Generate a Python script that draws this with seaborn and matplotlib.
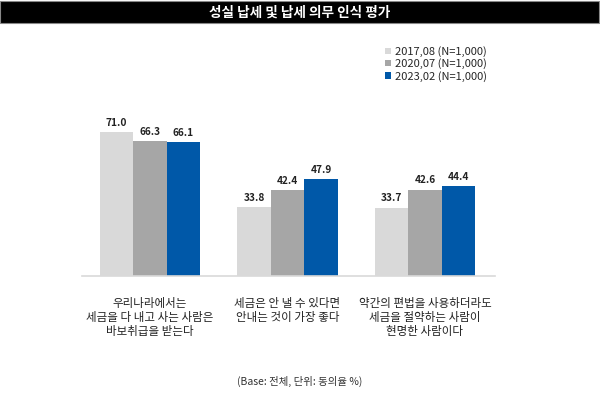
import pandas as pd
import matplotlib.pyplot as plt
import seaborn as sns
from matplotlib.patches import Rectangle

# Data
statements = [
    "우리나라에서는\n세금을 다 내고 사는 사람은\n바보취급을 받는다",
    "세금은 안 낼 수 있다면\n안내는 것이 가장 좋다",
    "약간의 편법을 사용하더라도\n세금을 절약하는 사람이\n현명한 사람이다",
]
surveys = ["2017,08 (N=1,000)", "2020,07 (N=1,000)", "2023,02 (N=1,000)"]
vals_2017 = [71.0, 33.8, 33.7]
vals_2020 = [66.3, 42.4, 42.6]
vals_2023 = [66.1, 47.9, 44.4]
colors = ["#d9d9d9", "#a6a6a6", "#0058a8"]

rows = []
for s, vals in zip(surveys, [vals_2017, vals_2020, vals_2023]):
    for st, v in zip(statements, vals):
        rows.append({"statement": st, "survey": s, "value": v})
df = pd.DataFrame(rows)

sns.set_style("white")
plt.rcParams['font.family'] = ['Noto Sans CJK KR', 'DejaVu Sans']

fig = plt.figure(figsize=(6, 3.97), dpi=100)
ax = fig.add_axes([0.137, 0.305, 0.688, 0.443])

sns.barplot(data=df, x="statement", y="value", hue="survey", hue_order=surveys,
            palette=colors, width=0.73, gap=0, saturation=1, linewidth=0,
            errorbar=None, ax=ax, legend=True)

for c in ax.containers:
    ax.bar_label(c, fmt="%.1f", padding=3, fontsize=7.3, fontweight="bold", color="#222222")

ax.set_xlim(-0.493, 2.51)
ax.set_ylim(0, 86.7)
ax.set_xlabel("")
ax.set_ylabel("")
ax.set_yticks([])
ax.set_xticks([0, 1, 2])
ax.set_xticklabels(statements, fontsize=8.3, linespacing=1.12, color="#222222")
ax.tick_params(axis="x", length=0, pad=15)
for side in ["top", "left", "right"]:
    ax.spines[side].set_visible(False)
ax.spines["bottom"].set_color("#d9d9d9")
ax.spines["bottom"].set_linewidth(1.2)

handles, labels = ax.get_legend_handles_labels()
ax.legend_.remove()
fig.legend(handles, labels, loc="upper left", bbox_to_anchor=(0.635, 0.895),
           frameon=False, fontsize=8, handlelength=0.5, handleheight=0.5,
           handletextpad=0.4, labelspacing=0.12, borderaxespad=0)

# title bar
fig.patches.append(Rectangle((0.0, 0.943), 0.998, 0.054, transform=fig.transFigure,
                             facecolor="black", edgecolor="#888888", linewidth=0.8))
fig.text(0.5, 0.968, "성실 납세 및 납세 의무 인식 평가", color="white", fontsize=9.8,
         fontweight="bold", ha="center", va="center")

fig.text(0.5, 0.038, "(Base: 전체, 단위: 동의율 %)", fontsize=7.5, ha="center",
         va="center", color="#333333")

fig.savefig("out.png", dpi=100)
